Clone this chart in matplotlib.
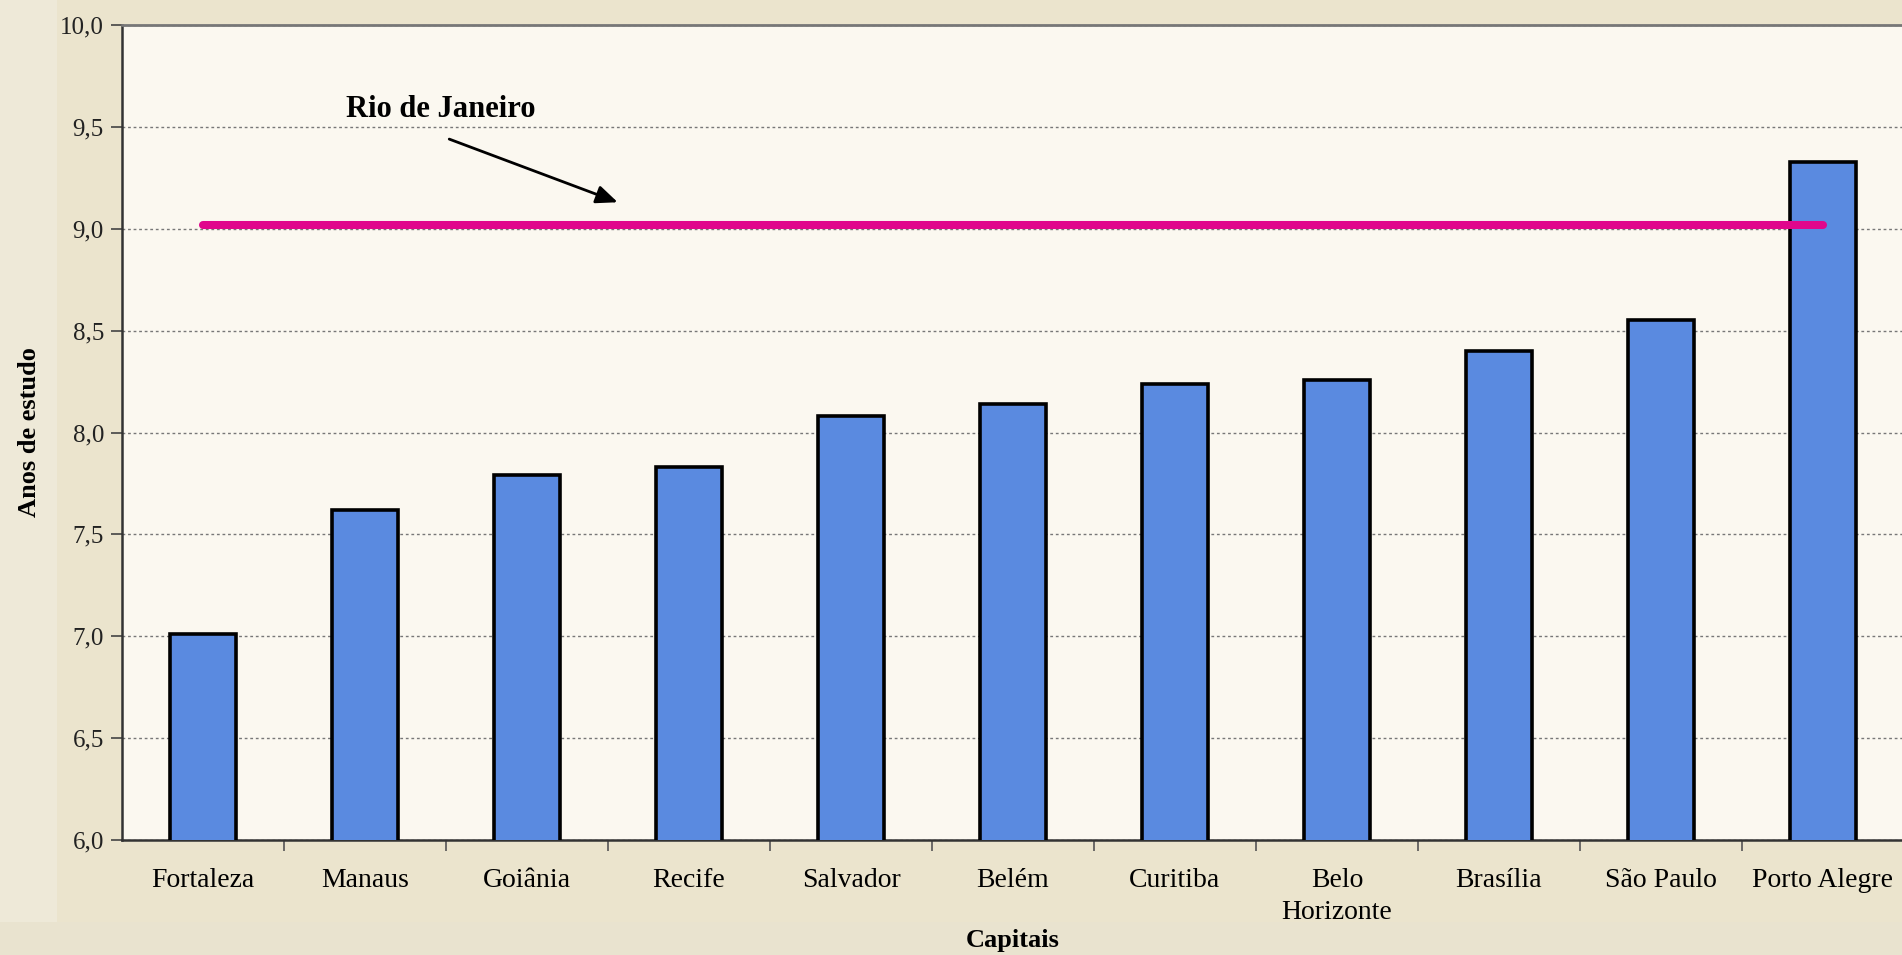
import matplotlib
matplotlib.use("Agg")
import matplotlib.pyplot as plt
from matplotlib.patches import Rectangle

# Average years of schooling by state capital
capitais = ["Fortaleza", "Manaus", "Goiânia", "Recife", "Salvador", "Belém",
            "Curitiba", "Belo\nHorizonte", "Brasília", "São Paulo", "Porto Alegre"]
anos_estudo = [7.01, 7.62, 7.79, 7.83, 8.08, 8.14, 8.24, 8.26, 8.40, 8.55, 9.33]

# Rio de Janeiro reference level
rio_nome = "Rio de Janeiro"
rio_valor = 9.02

y_ticks = [6.0, 6.5, 7.0, 7.5, 8.0, 8.5, 9.0, 9.5, 10.0]
y_tick_labels = ["6,0", "6,5", "7,0", "7,5", "8,0", "8,5", "9,0", "9,5", "10,0"]

plt.rcParams["font.family"] = ["Liberation Serif", "DejaVu Serif"]

W, H = 1902, 955
fig = plt.figure(figsize=(W / 100, H / 100), dpi=100)
fig.patch.set_facecolor("#EBE4CD")

# lighter paper strips along the left and bottom borders
fig.patches.append(Rectangle((0, 0), 57 / W, 1, transform=fig.transFigure,
                             facecolor="#EEE9D8", edgecolor="none", zorder=-2))
fig.patches.append(Rectangle((0, 0), 1, 33 / H, transform=fig.transFigure,
                             facecolor="#E9E3CF", edgecolor="none", zorder=-2))

ax = fig.add_axes([122 / W, 115 / H, 1782 / W, 815 / H])
ax.set_facecolor("#FBF8F0")

x = list(range(len(capitais)))
ax.bar(x, anos_estudo, width=0.41, bottom=0, color="#5A8AE0",
       edgecolor="black", linewidth=2.6, zorder=3)

ax.set_xlim(-0.5, len(capitais) - 0.5)
ax.set_ylim(6.0, 10.0)

# Rio de Janeiro reference line
ax.plot([0, len(capitais) - 1], [rio_valor, rio_valor], color="#E0068C",
        linewidth=5.8, solid_capstyle="round", zorder=4)
ax.annotate("", xy=(2.56, 9.13), xytext=(1.52, 9.44),
            arrowprops=dict(arrowstyle="-|>,head_length=1.3,head_width=0.55",
                            color="black", linewidth=2.0, shrinkA=0, shrinkB=0),
            zorder=5)
ax.text(0.88, 9.585, rio_nome, fontsize=22, fontweight="bold",
        ha="left", va="center", zorder=5)

# grid and ticks
ax.set_yticks(y_ticks)
ax.set_yticklabels(y_tick_labels, fontsize=18)
ax.yaxis.grid(True, linestyle=(0, (2, 2)), color="#777777", linewidth=1.0)
ax.set_axisbelow(True)
ax.tick_params(axis="y", direction="out", length=8, width=1.2, color="#444444",
               pad=5, labelcolor="#222222")

ax.set_xticks([i + 0.5 for i in x[:-1]])
ax.set_xticklabels([])
ax.set_xticks(x, minor=True)
ax.set_xticklabels(capitais, minor=True, fontsize=20, linespacing=1.4,
                   va="top")
ax.tick_params(axis="x", which="major", direction="out", length=8, width=1.2,
               color="#555555")
ax.tick_params(axis="x", which="minor", length=0, pad=20)

for side in ["left", "bottom"]:
    ax.spines[side].set_color("#333333")
    ax.spines[side].set_linewidth(1.8)
ax.spines["top"].set_color("#777777")
ax.spines["top"].set_linewidth(2.0)
ax.spines["right"].set_visible(False)

ax.set_xlabel("Capitais", fontsize=19, fontweight="bold")
ax.set_ylabel("Anos de estudo", fontsize=19, fontweight="bold")
ax.xaxis.set_label_coords(0.5, -0.123)
ax.yaxis.set_label_coords(-0.052, 0.5)
ax.xaxis.label.set_va("center")
ax.yaxis.label.set_va("center")

fig.savefig("out.png", dpi=100, facecolor=fig.get_facecolor())
